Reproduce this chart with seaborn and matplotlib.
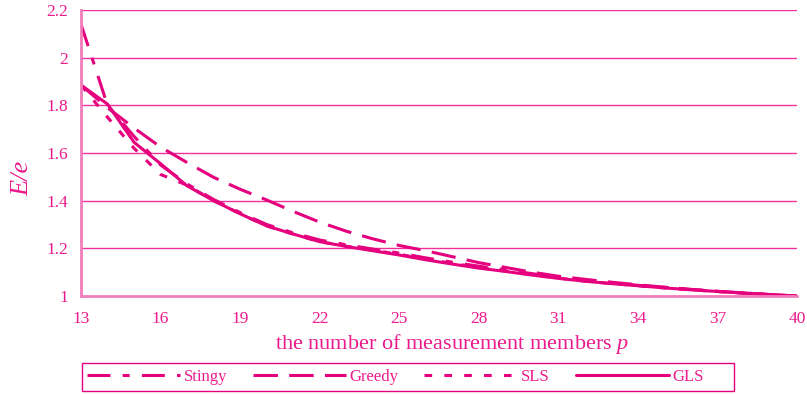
import numpy as np
import matplotlib.pyplot as plt
import pandas as pd
import seaborn as sns
from matplotlib.patches import Rectangle

# data
p = list(range(13, 41))
stingy = [2.14, 1.80, 1.67, 1.55, 1.47, 1.405, 1.35, 1.30, 1.265, 1.235, 1.215, 1.197, 1.18, 1.16,
          1.142, 1.125, 1.11, 1.094, 1.079, 1.066, 1.055, 1.045, 1.036, 1.027, 1.019, 1.012, 1.006, 1.0]
greedy = [1.885, 1.79, 1.705, 1.625, 1.56, 1.498, 1.448, 1.403, 1.355, 1.31, 1.272, 1.24, 1.212, 1.19,
          1.165, 1.14, 1.12, 1.10, 1.083, 1.07, 1.058, 1.047, 1.037, 1.028, 1.02, 1.013, 1.006, 1.0]
sls = [1.885, 1.75, 1.62, 1.51, 1.465, 1.40, 1.345, 1.294, 1.26, 1.228, 1.209, 1.192, 1.175, 1.155,
       1.137, 1.12, 1.105, 1.089, 1.075, 1.063, 1.052, 1.043, 1.034, 1.026, 1.019, 1.012, 1.006, 1.0]
gls = [1.885, 1.805, 1.645, 1.555, 1.462, 1.40, 1.345, 1.294, 1.26, 1.228, 1.208, 1.19, 1.172, 1.152,
       1.134, 1.117, 1.103, 1.088, 1.074, 1.062, 1.052, 1.043, 1.034, 1.026, 1.019, 1.012, 1.006, 1.0]
xticks = list(range(13, 41, 3))
yticks = [1, 1.2, 1.4, 1.6, 1.8, 2, 2.2]
ytick_labels = ['1', '1.2', '1.4', '1.6', '1.8', '2', '2.2']

series = {'Stingy': stingy, 'Greedy': greedy, 'SLS': sls, 'GLS': gls}
styles = {'Stingy': (0, (7.5, 4, 2.3, 4)),
          'Greedy': (0, (8, 3.7)),
          'SLS': (0, (2.5, 4)),
          'GLS': '-'}

line_col = '#E5007E'
grid_col = '#F0309A'
spine_col = '#F27DBB'
text_col = '#EC1A8C'

sns.set_theme(style='white')
plt.rcParams['font.family'] = ['Liberation Serif', 'DejaVu Serif']
plt.rcParams['mathtext.fontset'] = 'custom'
plt.rcParams['mathtext.rm'] = 'Liberation Serif'
plt.rcParams['mathtext.it'] = 'Liberation Serif:italic'

fig = plt.figure(figsize=(8.07, 3.94), dpi=100)
ax = fig.add_axes([81 / 807, 1 - 296 / 394, (797 - 81) / 807, (296 - 10) / 394])

for name, vals in series.items():
    df = pd.DataFrame({'p': p, 'E': vals})
    sns.lineplot(data=df, x='p', y='E', ax=ax, color=line_col, linewidth=2.2,
                 linestyle=styles[name], label=name, legend=False)

ax.set_xlim(13, 40)
ax.set_ylim(1, 2.2)
ax.set_xticks(xticks)
ax.set_yticks(yticks)
ax.set_yticklabels(ytick_labels)
for y in yticks[1:]:
    ax.axhline(y, color=grid_col, linewidth=1.0, zorder=0)

for s in ['top', 'right']:
    ax.spines[s].set_visible(False)
for s in ['left', 'bottom']:
    ax.spines[s].set_color(spine_col)
    ax.spines[s].set_linewidth(2)

ax.tick_params(axis='x', direction='in', length=5, width=1, color=spine_col,
               labelcolor=text_col, labelsize=12.5, pad=11)
ax.tick_params(axis='y', length=0, labelcolor=text_col, labelsize=12.5, pad=9.5)

ax.set_xlabel('the number of measurement members $p$', fontsize=16, color=text_col)
ax.xaxis.set_label_coords((452 - 81) / 716, -36 / 286)
ax.set_ylabel('E/e', fontsize=19, color=text_col, fontstyle='italic', rotation=90)
ax.yaxis.set_label_coords(-48 / 716, 0.413)

# legend box
fig.patches.append(Rectangle((82 / 807, 1 - 391 / 394), (734 - 82) / 807, 28 / 394,
                             transform=fig.transFigure, fill=False,
                             edgecolor=line_col, linewidth=1.0))

handles, labels = ax.get_legend_handles_labels()
leg = fig.legend(handles, labels, loc='center left', bbox_to_anchor=(87 / 807, 1 - 377 / 394),
                 ncol=4, frameon=False, handlelength=5.6, handletextpad=0.2,
                 columnspacing=1.55, fontsize=12, borderpad=0, borderaxespad=0)
for t in leg.get_texts():
    t.set_color(text_col)

fig.savefig('out.png', dpi=100)
